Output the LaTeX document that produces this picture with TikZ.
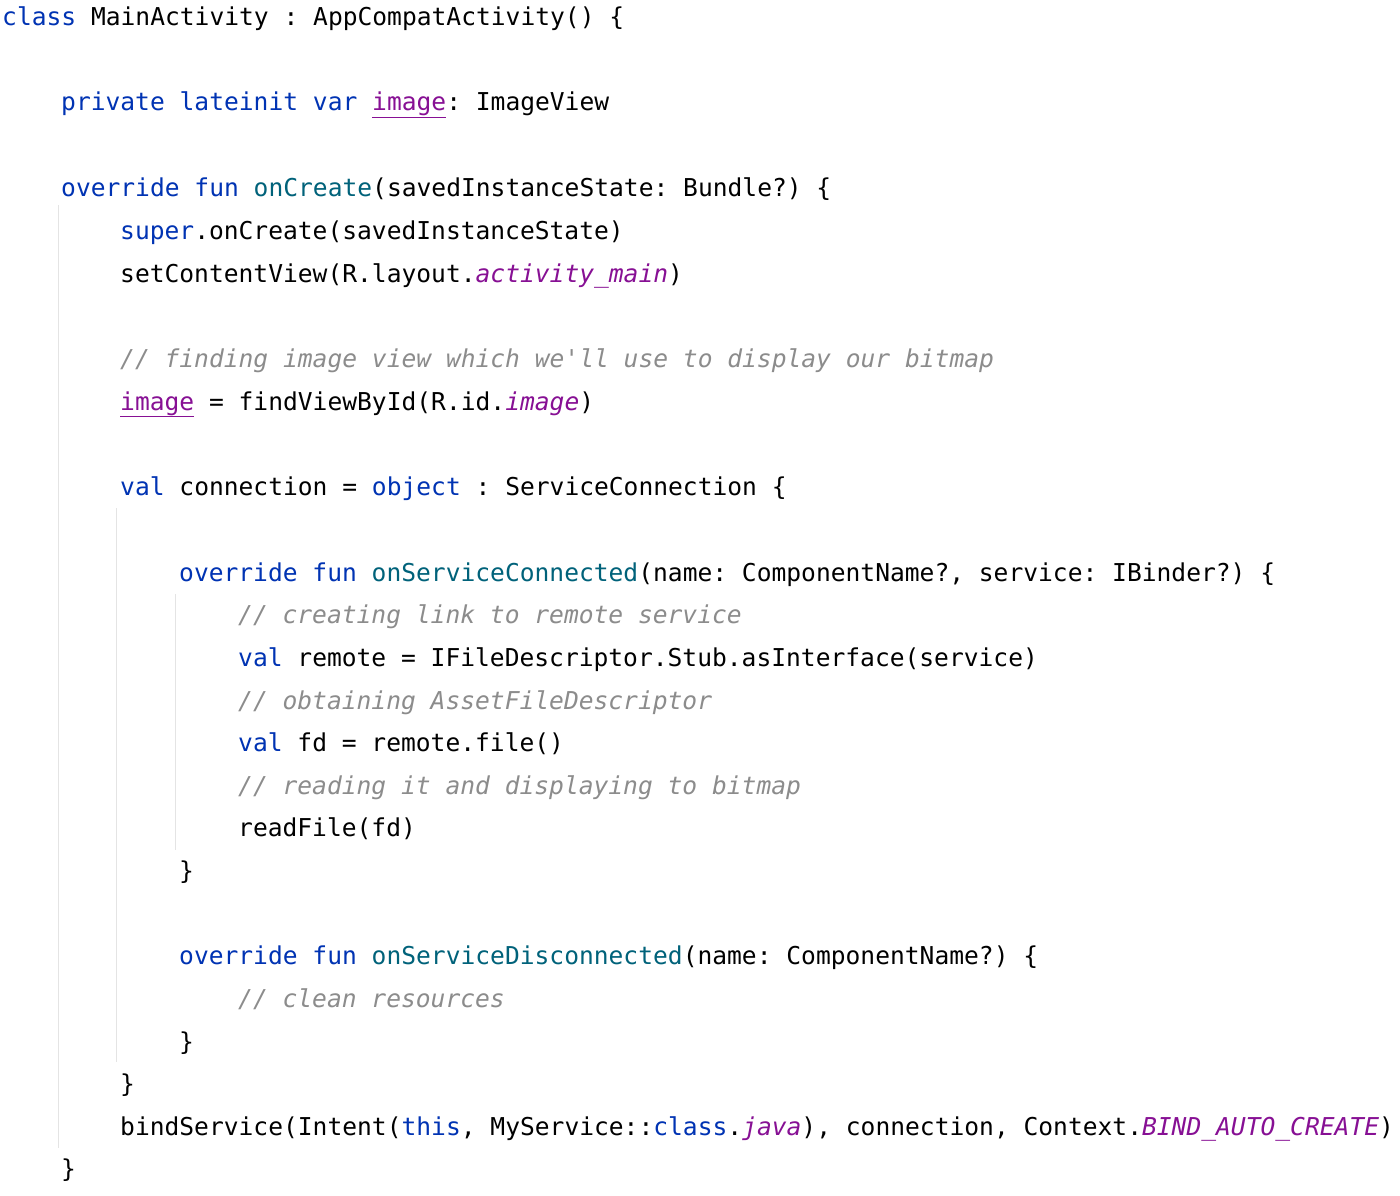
\documentclass[tikz,border=0pt]{standalone}
\usepackage{fontspec}
\setmonofont{DejaVu Sans Mono}
\definecolor{kwc}{HTML}{0033B3}
\definecolor{fnc}{HTML}{00627A}
\definecolor{puc}{HTML}{871094}
\definecolor{cmc}{HTML}{8C8C8C}
\definecolor{guide}{HTML}{E4E4E4}
\newcommand{\kw}[1]{\textcolor{kwc}{#1}}
\newcommand{\fn}[1]{\textcolor{fnc}{#1}}
\newcommand{\pu}[1]{\textcolor{puc}{\itshape #1}}
\newcommand{\pul}[1]{\textcolor{puc}{\underline{#1}}}
\newcommand{\cm}[1]{\textcolor{cmc}{\itshape #1}}
\tikzset{codeline/.style={anchor=base west,inner sep=0pt,font=\ttfamily\fontsize{24.6}{30}\selectfont,text=black},
guideline/.style={draw=guide,line width=1pt}}
\begin{document}
\begin{tikzpicture}[x=1pt,y=-1pt]
\useasboundingbox[fill=white] (0,0) rectangle (1400,1196);
\draw[guideline] (58,205) -- (58,1148);
\draw[guideline] (116,508) -- (116,1062);
\draw[guideline] (175,594) -- (175,850);
\def\cx#1{2+#1*14.75}
\node[codeline] (l1) at (\cx{0},26) {\kw{class} MainActivity : AppCompatActivity() \{};
\node[codeline] (l3) at (\cx{4},111) {\kw{private lateinit var} \pul{image}: ImageView};
\node[codeline] (l5) at (\cx{4},196) {\kw{override fun} \fn{onCreate}(savedInstanceState: Bundle?) \{};
\node[codeline] (l6) at (\cx{8},239) {\kw{super}.onCreate(savedInstanceState)};
\node[codeline] (l7) at (\cx{8},282) {setContentView(R.layout.\pu{activity\_main})};
\node[codeline] (l9) at (\cx{8},367) {\cm{// finding image view which we'll use to display our bitmap}};
\node[codeline] (l10) at (\cx{8},410) {\pul{image} = findViewById(R.id.\pu{image})};
\node[codeline] (l12) at (\cx{8},495) {\kw{val} connection = \kw{object} : ServiceConnection \{};
\node[codeline] (l14) at (\cx{12},581) {\kw{override fun} \fn{onServiceConnected}(name: ComponentName?, service: IBinder?) \{};
\node[codeline] (l15) at (\cx{16},623) {\cm{// creating link to remote service}};
\node[codeline] (l16) at (\cx{16},666) {\kw{val} remote = IFileDescriptor.Stub.asInterface(service)};
\node[codeline] (l17) at (\cx{16},709) {\cm{// obtaining AssetFileDescriptor}};
\node[codeline] (l18) at (\cx{16},751) {\kw{val} fd = remote.file()};
\node[codeline] (l19) at (\cx{16},794) {\cm{// reading it and displaying to bitmap}};
\node[codeline] (l20) at (\cx{16},836) {readFile(fd)};
\node[codeline] (l21) at (\cx{12},879) {\}};
\node[codeline] (l23) at (\cx{12},964) {\kw{override fun} \fn{onServiceDisconnected}(name: ComponentName?) \{};
\node[codeline] (l24) at (\cx{16},1007) {\cm{// clean resources}};
\node[codeline] (l25) at (\cx{12},1050) {\}};
\node[codeline] (l26) at (\cx{8},1092) {\}};
\node[codeline] (l27) at (\cx{8},1135) {bindService(Intent(\kw{this}, MyService::\kw{class}.\pu{java}), connection, Context.\pu{BIND\_AUTO\_CREATE})};
\node[codeline] (l28) at (\cx{4},1177) {\}};
\end{tikzpicture}
\end{document}
